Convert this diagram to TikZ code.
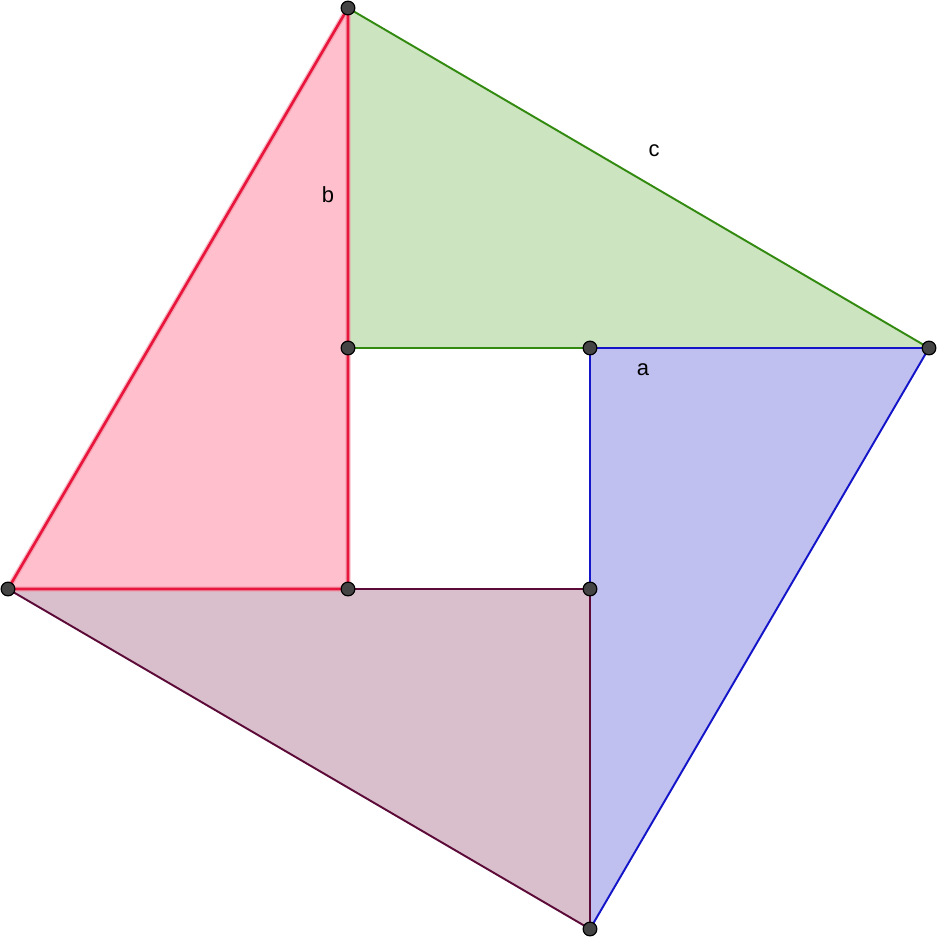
\documentclass[tikz,border=0pt]{standalone}
\usepackage{fontspec}
\setmainfont{Liberation Sans}
\definecolor{pinkfill}{HTML}{FFBFCC}
\definecolor{pinkedge}{HTML}{E8163C}
\definecolor{pinkhalo}{HTML}{F28FA3}
\definecolor{greenfill}{HTML}{CCE4C0}
\definecolor{greenedge}{HTML}{338A10}
\definecolor{bluefill}{HTML}{BFBFF0}
\definecolor{blueedge}{HTML}{1414C8}
\definecolor{maroonfill}{HTML}{D9BFCC}
\definecolor{maroonedge}{HTML}{5C0A38}
\definecolor{ptfill}{HTML}{444444}
\tikzset{
  pt/.style={circle, fill=ptfill, draw=black, line width=0.7pt, inner sep=0pt, minimum size=7.8pt},
  lbl/.style={font=\fontsize{12.5}{14}\selectfont, text=black, inner sep=0pt},
  gedge/.style={draw=greenedge, line width=1.1pt},
  bedge/.style={draw=blueedge, line width=1.1pt},
  medge/.style={draw=maroonedge, line width=1.1pt},
  redge/.style={draw=pinkedge, line width=1.5pt},
  rhalo/.style={draw=pinkhalo, line width=3pt, opacity=0.6},
}
\begin{document}
\begin{tikzpicture}[x=0.02cm, y=-0.02cm, line join=round, line cap=round]
\useasboundingbox (0,0) rectangle (937,937);
\coordinate (T) at (348,8);
\coordinate (R) at (929,348);
\coordinate (B) at (590,929);
\coordinate (L) at (8,589);
\coordinate (I1) at (348,348);
\coordinate (I2) at (590,348);
\coordinate (I3) at (590,589);
\coordinate (I4) at (348,589);
% fills
\fill[greenfill] (T) -- (R) -- (I1) -- cycle;
\fill[bluefill] (I2) -- (R) -- (B) -- cycle;
\fill[maroonfill] (L) -- (I3) -- (B) -- cycle;
\fill[pinkfill] (T) -- (L) -- (I4) -- cycle;
% edges
\draw[gedge] (T) -- (R) -- (I1) -- cycle;
\draw[bedge] (I2) -- (R) -- (B) -- cycle;
\draw[medge] (L) -- (I3) -- (B) -- cycle;
\draw[rhalo] (T) -- (L) -- (I4) -- cycle;
\draw[redge] (T) -- (L) -- (I4) -- cycle;
% points
\node[pt] (pT) at (T) {};
\node[pt] (pR) at (R) {};
\node[pt] (pB) at (B) {};
\node[pt] (pL) at (L) {};
\node[pt] (p1) at (I1) {};
\node[pt] (p2) at (I2) {};
\node[pt] (p3) at (I3) {};
\node[pt] (p4) at (I4) {};
% labels
\node[lbl] (lc) at (654,151) {c};
\node[lbl] (lb) at (328,195) {b};
\node[lbl] (la) at (643,370) {a};
\end{tikzpicture}
\end{document}
